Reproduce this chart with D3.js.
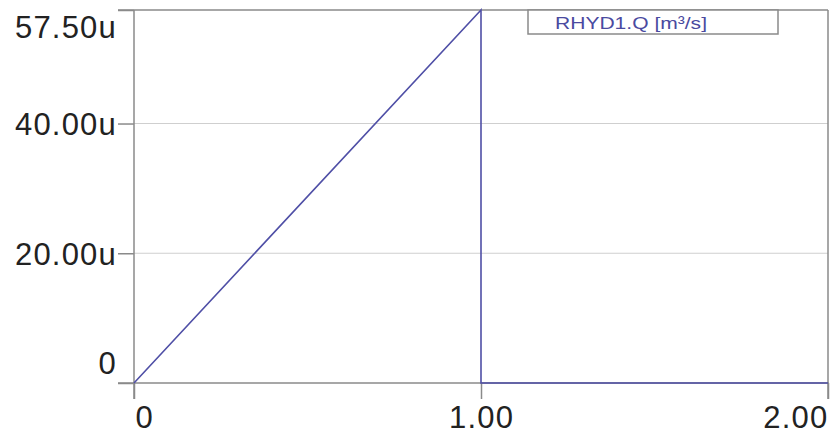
<!DOCTYPE html>
<html>
<head>
<meta charset="utf-8">
<script src="https://cdn.jsdelivr.net/npm/d3@7"></script>
<style>
  body { margin: 0; background: #fff; }
  text { font-family: "Liberation Sans", Arial, sans-serif; }
</style>
</head>
<body>
<svg width="835" height="440"></svg>
<script>
// time in s, flow in micro m3/s
const times = [0, 1, 1, 1, 2];
const flows = [0, 57.5, 28.5, 0, 0];

const xTicks = [0, 1, 2];
const xTickLabels = ["0", "1.00", "2.00"];
const yTicks = [0, 20, 40, 57.5];
const yTickLabels = ["0", "20.00u", "40.00u", "57.50u"];
const seriesName = "RHYD1.Q [m\u00B3/s]";

const svg = d3.select("svg");

const plotLeft = 134, plotRight = 828, plotTop = 10, plotBottom = 383;
const axisColor = "#8a8a8a";
const gridColor = "#cfcfcf";
const lineColor = "#4f4fa6";

const x = d3.scaleLinear().domain([0, 2]).range([plotLeft, plotRight]);
const y = d3.scaleLinear().domain([0, 57.5]).range([plotBottom, plotTop]);

// grid lines
svg.append("g")
  .selectAll("line")
  .data([20, 40])
  .join("line")
  .attr("x1", plotLeft).attr("x2", plotRight)
  .attr("y1", d => y(d)).attr("y2", d => y(d))
  .attr("stroke", gridColor);

// frame top + right
svg.append("line")
  .attr("x1", plotLeft - 16).attr("x2", plotRight)
  .attr("y1", plotTop).attr("y2", plotTop)
  .attr("stroke", axisColor).attr("stroke-width", 1.5);
svg.append("line")
  .attr("x1", plotRight).attr("x2", plotRight)
  .attr("y1", plotTop).attr("y2", plotBottom)
  .attr("stroke", axisColor).attr("stroke-width", 1.5);

// y axis
const yAxis = svg.append("g")
  .attr("transform", `translate(${plotLeft},0)`)
  .call(d3.axisLeft(y).tickValues(yTicks).tickSize(16).tickPadding(1)
    .tickFormat((d, i) => yTickLabels[i]));

// x axis
const xAxis = svg.append("g")
  .attr("transform", `translate(0,${plotBottom})`)
  .call(d3.axisBottom(x).tickValues(xTicks).tickSize(16).tickPadding(7)
    .tickFormat((d, i) => xTickLabels[i]));

[yAxis, xAxis].forEach(a => {
  a.select(".domain").attr("stroke", axisColor).attr("stroke-width", 1.5);
  a.selectAll(".tick line").attr("stroke", axisColor).attr("stroke-width", 1.5);
  a.selectAll(".tick text")
    .attr("fill", "#222")
    .attr("font-size", 31)
    .attr("letter-spacing", 1.2)
    .attr("font-family", "Liberation Sans, Arial, sans-serif");
});
yAxis.select(".domain").attr("d", `M0,${plotTop}V${plotBottom + 16}`);
xAxis.select(".domain").attr("d", `M${plotLeft - 16},0H${plotRight}V16`);

// shift end labels inside like the original
yAxis.selectAll(".tick text")
  .attr("dy", (d, i) => i === 0 ? "-0.3em" : i === yTicks.length - 1 ? "0.88em" : "0.35em");
xAxis.selectAll(".tick text")
  .attr("text-anchor", (d, i) => i === 0 ? "start" : i === xTicks.length - 1 ? "end" : "middle")
  .attr("dx", (d, i) => i === 0 ? 1 : 0);

// series
const pts = times.map((t, i) => [t, flows[i]]);
svg.append("path")
  .datum(pts)
  .attr("fill", "none")
  .attr("stroke", lineColor)
  .attr("stroke-width", 1.6)
  .attr("d", d3.line().x(d => x(d[0])).y(d => y(d[1])));

// legend
const lg = svg.append("g");
lg.append("rect")
  .attr("x", 528).attr("y", plotTop)
  .attr("width", 250).attr("height", 24)
  .attr("fill", "#fff")
  .attr("stroke", axisColor).attr("stroke-width", 1.5);
lg.append("text")
  .attr("x", 555).attr("y", 29)
  .attr("font-size", 17)
  .attr("textLength", 152)
  .attr("lengthAdjust", "spacingAndGlyphs")
  .attr("fill", "#4a4aa0")
  .text(seriesName);
</script>
</body>
</html>
